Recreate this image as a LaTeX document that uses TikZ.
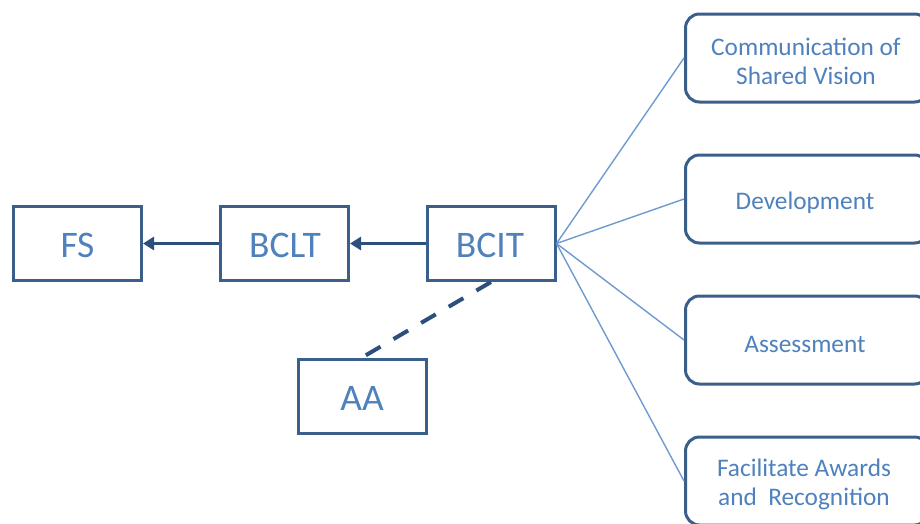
\documentclass[tikz,border=0pt]{standalone}
\usepackage{fontspec}
\setmainfont{Carlito}
\usetikzlibrary{arrows.meta}
\definecolor{boxline}{HTML}{3A5F8B}
\definecolor{txtblue}{HTML}{4F81BD}
\definecolor{arrowblue}{HTML}{2C4F7C}
\definecolor{thinblue}{HTML}{6E9AD0}
\tikzset{
  unitbox/.style={draw=boxline, line width=3pt, fill=white, minimum width=128pt,
    minimum height=74pt, inner sep=0pt},
  unittext/.style={text=txtblue, inner sep=0pt, font=\fontsize{37.5}{42}\selectfont},
  rolebox/.style={draw=boxline, line width=3pt, fill=white, rounded corners=14pt,
    minimum width=243pt, minimum height=88pt, inner sep=0pt},
  roletext/.style={text=txtblue, inner sep=0pt, align=center,
    font=\fontsize{25.3}{29}\selectfont},
  flowarrow/.style={draw=arrowblue, line width=3.6pt,
    -{Triangle[length=11pt,width=13pt]}},
  linkline/.style={draw=arrowblue, line width=4pt, dash pattern=on 17pt off 15pt},
  spoke/.style={draw=thinblue, line width=1.4pt}
}
\begin{document}
\begin{tikzpicture}[x=1pt,y=-1pt]
\useasboundingbox (0,0) rectangle (920,523);
\begin{scope}
\clip (0,0) rectangle (920,523);
% left chain
\node[unitbox] (FS)   at (77.5,243.5) {};
\node[unitbox] (BCLT) at (284.5,243.5) {};
\node[unitbox] (BCIT) at (491,243.5) {};
\node[unitbox] (AA)   at (362,396) {};
\node[unittext] (FSt)   at (77.5,245.5) {FS};
\node[unittext] (BCLTt) at (285,245.5) {BCLT};
\node[unittext] (BCITt) at (490,245.5) {BCIT};
\node[unittext] (AAt)   at (362,398) {AA};
% responsibilities
\node[rolebox] (R1) at (807,58)  {};
\node[rolebox] (R2) at (807,199) {};
\node[rolebox] (R3) at (807,340) {};
\node[rolebox] (R4) at (807,481) {};
\node[roletext] (R1t) at (806,61)  {Communication of\\Shared Vision};
\node[roletext] (R2t) at (805,203) {Development};
\node[roletext] (R3t) at (805,344) {Assessment};
\node[roletext] (R4t) at (804,484) {Facilitate Awards\\and\ \ Recognition};
% connectors
\draw[flowarrow] (BCLT.west) -- (FS.east);
\draw[flowarrow] (BCIT.west) -- (BCLT.east);
\draw[linkline] (BCIT.south) -- (AA.north);
\foreach \r in {R1,R2,R3,R4}
  \draw[spoke] (BCIT.east) -- (\r.west);
\end{scope}
\end{tikzpicture}
\end{document}
